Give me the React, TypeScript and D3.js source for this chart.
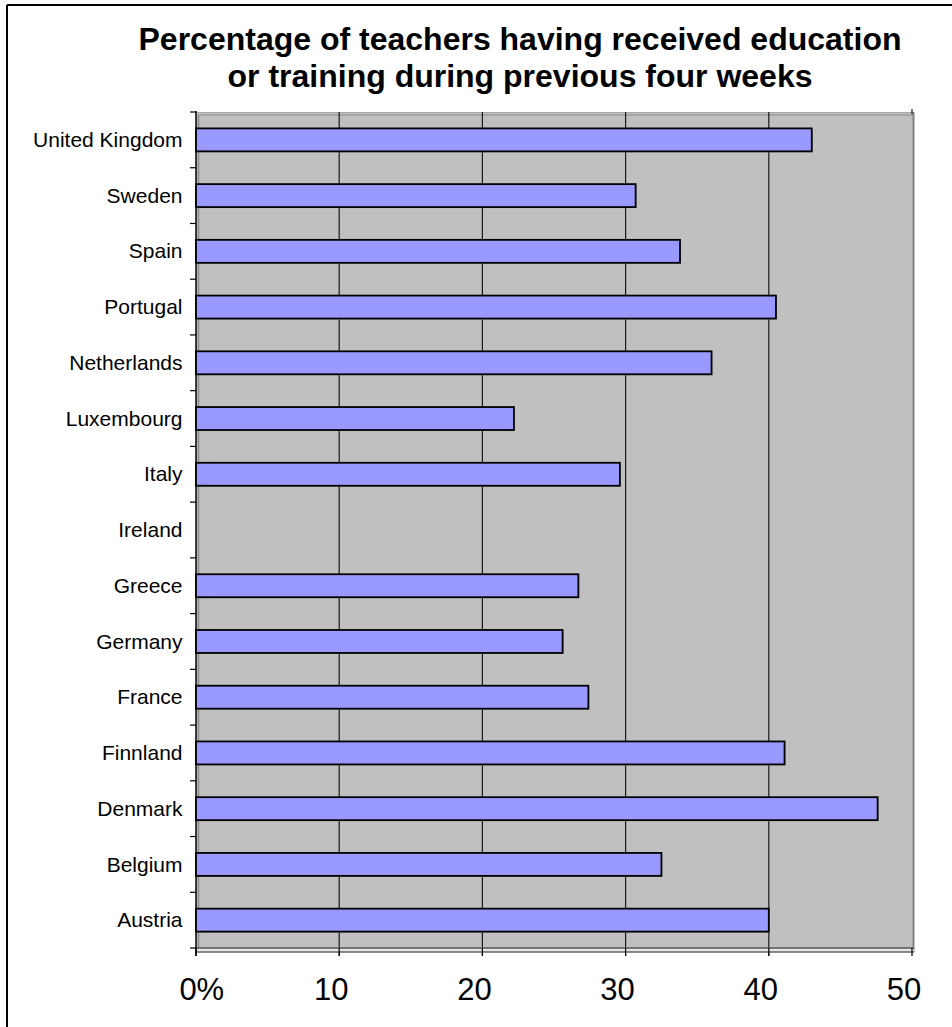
import React from "react";
import * as d3 from "d3";

const titleLines = [
  "Percentage of teachers having received education",
  "or training during previous four weeks",
];

const countries = [
  "United Kingdom",
  "Sweden",
  "Spain",
  "Portugal",
  "Netherlands",
  "Luxembourg",
  "Italy",
  "Ireland",
  "Greece",
  "Germany",
  "France",
  "Finnland",
  "Denmark",
  "Belgium",
  "Austria",
];

const values: (number | null)[] = [
  43.0, 30.7, 33.8, 40.5, 36.0, 22.2, 29.6, null, 26.7, 25.6, 27.4, 41.1, 47.6, 32.5, 40.0,
];

const xTicks = [0, 10, 20, 30, 40, 50];
const formatTick = (d: number) => (d === 0 ? "0" : String(d));
const firstTickSuffix = "%";

const W = 952;
const H = 1027;
const plot = { left: 196, right: 912, top: 112, bottom: 948 };
const font = "Arial, 'Liberation Sans', Helvetica, sans-serif";

export default function App() {
  const x = d3.scaleLinear().domain([0, 50]).range([plot.left, plot.right]);
  const y = d3
    .scaleBand<string>()
    .domain(countries)
    .range([plot.top, plot.bottom])
    .paddingInner(0.588)
    .paddingOuter(0.294);
  const step = y.step();
  const boundaries = d3.range(countries.length + 1).map((i) => plot.top + i * step);
  const labelShift = -8;

  return (
    <svg
      width={W}
      height={H}
      style={{ position: "absolute", left: 0, top: 0, background: "#fff" }}
      fontFamily={font}
    >
      {/* outer frame (cropped at right and bottom) */}
      <line x1={7} y1={5} x2={W + 5} y2={5} stroke="#000" strokeWidth={2} />
      <line x1={7} y1={5} x2={7} y2={H + 5} stroke="#000" strokeWidth={2} />

      {/* title */}
      {titleLines.map((t, i) => (
        <text
          key={t}
          x={520}
          y={50 + i * 37}
          textAnchor="middle"
          fontSize={32}
          fontWeight="bold"
          fill="#000"
        >
          {t}
        </text>
      ))}

      {/* plot background (3D walls) */}
      <rect
        x={plot.left}
        y={plot.top}
        width={plot.right - plot.left + 1}
        height={plot.bottom - plot.top}
        fill="#C0C0C0"
      />
      <line x1={plot.left} x2={plot.right + 2} y1={plot.top + 0.5} y2={plot.top + 0.5} stroke="#A8A8A8" strokeWidth={1} />
      <line x1={plot.left + 2} x2={plot.right + 2} y1={plot.top + 3} y2={plot.top + 3} stroke="#8C8C8C" strokeWidth={1} />
      <line x1={plot.left + 2.5} x2={plot.left + 2.5} y1={plot.top + 3} y2={plot.bottom} stroke="#8C8C8C" strokeWidth={1.5} />
      <line x1={plot.right + 1.5} x2={plot.right + 1.5} y1={plot.top} y2={plot.bottom + 4} stroke="#808080" strokeWidth={2} />

      {/* gridlines */}
      {xTicks.slice(1, -1).map((t) => (
        <line
          key={"g" + t}
          x1={x(t)}
          x2={x(t)}
          y1={plot.top}
          y2={plot.bottom + 8}
          stroke="#1a1a1a"
          strokeWidth={1.2}
        />
      ))}
      <line x1={x(50)} x2={x(50)} y1={plot.top - 3} y2={plot.top + 2} stroke="#1a1a1a" strokeWidth={1.2} />

      {/* floor / x axis */}
      <rect x={plot.left} y={plot.bottom} width={plot.right - plot.left + 2} height={4} fill="#E6E6E6" />
      <line x1={plot.left} x2={plot.right + 2} y1={plot.bottom} y2={plot.bottom} stroke="#555" strokeWidth={1.5} />
      <line x1={plot.left} x2={plot.right + 2} y1={plot.bottom + 4} y2={plot.bottom + 4} stroke="#666" strokeWidth={1.5} />
      {xTicks.map((t) => (
        <line key={"t" + t} x1={x(t)} x2={x(t)} y1={plot.bottom} y2={plot.bottom + 8} stroke="#000" strokeWidth={1.2} />
      ))}

      {/* y axis */}
      <line x1={plot.left} x2={plot.left} y1={plot.top - 1} y2={plot.bottom + 8} stroke="#000" strokeWidth={1.5} />
      {boundaries.map((b, i) => (
        <line key={"yt" + i} x1={plot.left - 6} x2={plot.left} y1={b} y2={b} stroke="#000" strokeWidth={1.2} />
      ))}

      {/* bars */}
      {countries.map((c, i) => {
        const v = values[i];
        if (v == null) return null;
        const y0 = y(c) as number;
        const bw = x(v) - x(0);
        return (
          <g key={c}>
            <rect x={x(0) + 1} y={y0 + 1} width={bw} height={y.bandwidth()} fill="#9A9A9A" />
            <rect
              x={x(0)}
              y={y0}
              width={bw}
              height={y.bandwidth()}
              fill="#9999FF"
              stroke="#000"
              strokeWidth={1.8}
            />
          </g>
        );
      })}

      {/* category labels */}
      {countries.map((c) => (
        <text
          key={"l" + c}
          x={182.5}
          y={(y(c) as number) + y.bandwidth() / 2}
          dy="0.34em"
          textAnchor="end"
          fontSize={21}
          fill="#000"
        >
          {c}
        </text>
      ))}

      {/* x tick labels */}
      {xTicks.map((t, i) => (
        <g key={"xl" + t}>
          <text x={x(t) + labelShift} y={1000} textAnchor="middle" fontSize={31} fill="#000">
            {formatTick(t)}
          </text>
          {i === 0 && (
            <text x={x(t) + labelShift + 8.6} y={1000} textAnchor="start" fontSize={31} fill="#000">
              {firstTickSuffix}
            </text>
          )}
        </g>
      ))}
    </svg>
  );
}
